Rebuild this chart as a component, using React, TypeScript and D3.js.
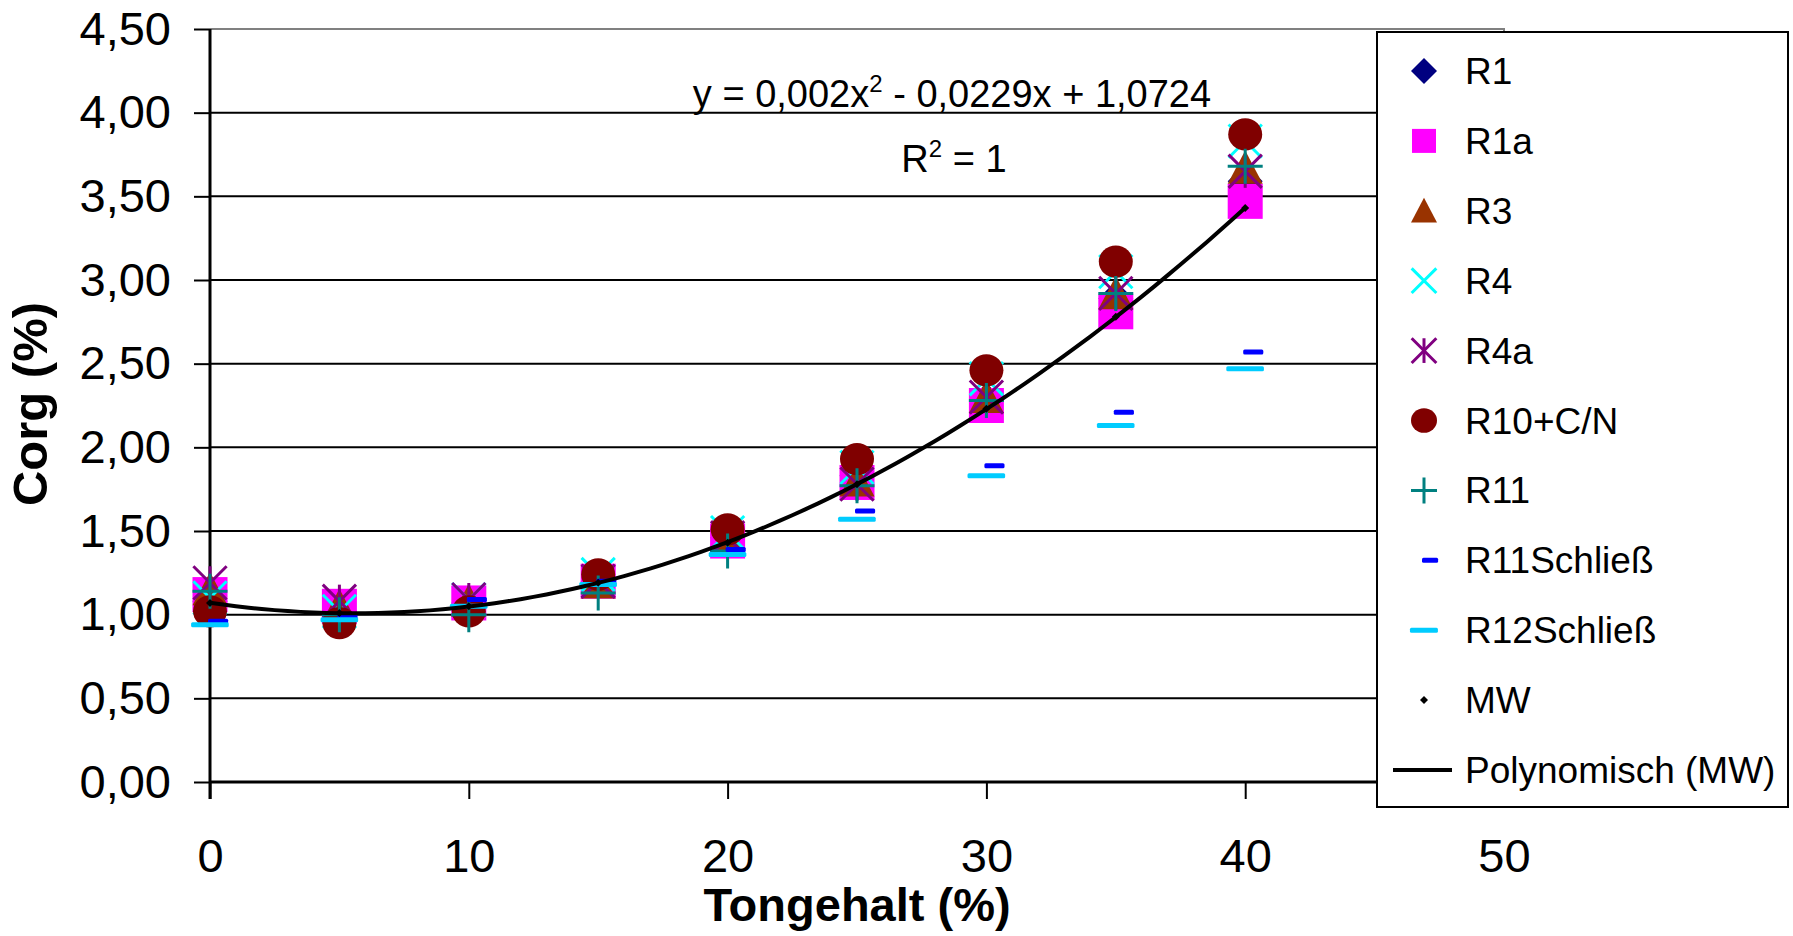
import React, { useEffect, useRef } from 'react';
import * as d3 from 'd3';

const tongehalt = [0, 5, 10, 15, 20, 25, 30, 35, 40];
const r1 = [1.08, 1.02, 1.07, 1.2, 1.46, 1.83, 2.28, 2.89, 3.59];
const r1a = [1.12, 1.05, 1.07, 1.2, 1.44, 1.79, 2.25, 2.81, 3.47];
const r3 = [1.15, 1.05, 1.08, 1.19, 1.45, 1.8, 2.3, 2.92, 3.67];
const r4 = [1.1, 1.02, 1.09, 1.24, 1.49, 1.88, 2.41, 3.05, 3.83];
const r4a = [1.19, 1.08, 1.09, 1.2, 1.46, 1.78, 2.3, 2.92, 3.65];
const r10 = [1.02, 0.95, 1.02, 1.24, 1.51, 1.93, 2.46, 3.11, 3.87];
const r11 = [1.14, 1.0, 1.0, 1.13, 1.38, 1.77, 2.28, 2.92, 3.68];
const r11s = [0.96, 0.99, 1.09, 1.2, 1.39, 1.62, 1.89, 2.21, 2.57];
const r12s = [0.94, 0.97, 1.05, 1.18, 1.36, 1.57, 1.83, 2.13, 2.47];
const mw = [1.07, 1.01, 1.05, 1.19, 1.43, 1.78, 2.23, 2.78, 3.43];

const yTicks = [0, 0.5, 1, 1.5, 2, 2.5, 3, 3.5, 4, 4.5];
const xTicks = [0, 10, 20, 30, 40, 50];

const series = [
  { name: 'R1', values: r1, shape: 'diamond', color: '#000080' },
  { name: 'R1a', values: r1a, shape: 'square', color: '#FF00FF' },
  { name: 'R3', values: r3, shape: 'triangle', color: '#993300' },
  { name: 'R4', values: r4, shape: 'x', color: '#00FFFF' },
  { name: 'R4a', values: r4a, shape: 'star', color: '#800080' },
  { name: 'R10+C/N', values: r10, shape: 'circle', color: '#800000' },
  { name: 'R11', values: r11, shape: 'plus', color: '#008080' },
  { name: 'R11Schließ', values: r11s, shape: 'shortdash', color: '#0000FF' },
  { name: 'R12Schließ', values: r12s, shape: 'longdash', color: '#00CCFF' },
  { name: 'MW', values: mw, shape: 'dot', color: '#000000' },
];

// quadratic least squares through MW (the Excel trendline)
function fitQuad(xs: number[], ys: number[]) {
  const S = (f: (x: number, y: number) => number) => d3.sum(xs, (x, i) => f(x, ys[i]));
  const m = [
    [S((x) => x ** 4), S((x) => x ** 3), S((x) => x ** 2), S((x, y) => x * x * y)],
    [S((x) => x ** 3), S((x) => x ** 2), S((x) => x), S((x, y) => x * y)],
    [S((x) => x ** 2), S((x) => x), xs.length, S((x, y) => y)],
  ];
  for (let i = 0; i < 3; i++) {
    for (let k = i + 1; k < 3; k++) {
      const f = m[k][i] / m[i][i];
      for (let j = i; j < 4; j++) m[k][j] -= f * m[i][j];
    }
  }
  const c = [0, 0, 0];
  for (let i = 2; i >= 0; i--) {
    let s = m[i][3];
    for (let j = i + 1; j < 3; j++) s -= m[i][j] * c[j];
    c[i] = s / m[i][i];
  }
  return c;
}

function drawMarker(g: any, shape: string, color: string, cx: number, cy: number, s: number) {
  if (shape === 'diamond') {
    g.append('path').attr('d', `M${cx},${cy - s}L${cx + s},${cy}L${cx},${cy + s}L${cx - s},${cy}Z`).attr('fill', color);
  } else if (shape === 'square') {
    g.append('rect').attr('x', cx - s).attr('y', cy - s).attr('width', 2 * s).attr('height', 2 * s).attr('fill', color);
  } else if (shape === 'triangle') {
    g.append('path').attr('d', `M${cx},${cy - s}L${cx + s},${cy + s * 0.9}L${cx - s},${cy + s * 0.9}Z`).attr('fill', color);
  } else if (shape === 'circle') {
    g.append('ellipse').attr('cx', cx).attr('cy', cy).attr('rx', s).attr('ry', s * 0.95).attr('fill', color);
  } else if (shape === 'x' || shape === 'star') {
    const d = s * 0.95;
    g.append('path').attr('d', `M${cx - d},${cy - d}L${cx + d},${cy + d}M${cx + d},${cy - d}L${cx - d},${cy + d}`)
      .attr('stroke', color).attr('stroke-width', 3).attr('fill', 'none');
    if (shape === 'star') {
      g.append('path').attr('d', `M${cx},${cy - d}L${cx},${cy + d}`).attr('stroke', color).attr('stroke-width', 3);
    }
  } else if (shape === 'plus') {
    g.append('path').attr('d', `M${cx - s},${cy}L${cx + s},${cy}M${cx},${cy - s}L${cx},${cy + s}`)
      .attr('stroke', color).attr('stroke-width', 3).attr('fill', 'none');
  } else if (shape === 'shortdash') {
    g.append('rect').attr('x', cx - 2).attr('y', cy - 2.5).attr('width', s * 1.15).attr('height', 5).attr('rx', 1.5).attr('fill', color);
  } else if (shape === 'longdash') {
    g.append('rect').attr('x', cx - s * 1.08).attr('y', cy - 2.5).attr('width', s * 2.15).attr('height', 5).attr('rx', 1.5).attr('fill', color);
  } else if (shape === 'dot') {
    const d = 4;
    g.append('path').attr('d', `M${cx},${cy - d}L${cx + d},${cy}L${cx},${cy + d}L${cx - d},${cy}Z`).attr('fill', color);
  }
}

const App = () => {
  const svgRef = useRef<SVGSVGElement>(null);

  useEffect(() => {
    const svg = d3.select(svgRef.current);
    svg.selectAll('*').remove();

    const width = 1793;
    const height = 936;
    const font = '"Liberation Sans", Arial, sans-serif';

    const x = d3.scaleLinear().domain([0, 50]).range([210, 1504]);
    const y = d3.scaleLinear().domain([0, 4.5]).range([782, 29]);

    svg.attr('width', width).attr('height', height);
    svg.append('rect').attr('width', width).attr('height', height).attr('fill', '#fff');

    // gridlines
    svg.append('g')
      .selectAll('line')
      .data(yTicks.filter((t) => t > 0 && t < 4.5))
      .enter()
      .append('line')
      .attr('x1', x(0)).attr('x2', x(50))
      .attr('y1', (d) => y(d)).attr('y2', (d) => y(d))
      .attr('stroke', '#000').attr('stroke-width', 2);

    // plot border top/right (grey)
    svg.append('path')
      .attr('d', `M${x(0)},${y(4.5)}H${x(50)}V${y(0)}`)
      .attr('stroke', '#808080').attr('stroke-width', 2).attr('fill', 'none');

    // y axis
    const yAxis = svg.append('g')
      .attr('transform', `translate(${x(0)},0)`)
      .call(d3.axisLeft(y).tickValues(yTicks).tickSize(16).tickPadding(23).tickFormat((d: any) => d3.format('.2f')(d).replace('.', ',')));
    yAxis.select('.domain').remove();
    yAxis.selectAll('.tick line').attr('stroke', '#000').attr('stroke-width', 2);
    yAxis.selectAll('.tick text').attr('font-family', font).attr('font-size', 47).attr('fill', '#000');

    // x axis
    const xAxis = svg.append('g')
      .attr('transform', `translate(0,${y(0)})`)
      .call(d3.axisBottom(x).tickValues(xTicks).tickSize(17).tickPadding(40));
    xAxis.select('.domain').remove();
    xAxis.selectAll('.tick line').attr('stroke', '#000').attr('stroke-width', 2);
    xAxis.selectAll('.tick text').attr('font-family', font).attr('font-size', 47).attr('fill', '#000');

    svg.append('line').attr('x1', x(0)).attr('x2', x(50)).attr('y1', y(0)).attr('y2', y(0)).attr('stroke', '#000').attr('stroke-width', 3);
    svg.append('line').attr('x1', x(0)).attr('x2', x(0)).attr('y1', y(4.5)).attr('y2', y(0) + 17).attr('stroke', '#000').attr('stroke-width', 3);

    // markers
    const markers = svg.append('g');
    series.forEach((s) => {
      s.values.forEach((v, i) => {
        const size = s.shape === 'square' ? 17.5 : s.shape === 'circle' ? 17 : 17.5;
        drawMarker(markers, s.shape, s.color, x(tongehalt[i]), y(v), size);
      });
    });

    // trendline
    const [a, b, c] = fitQuad(tongehalt, mw);
    const xs = d3.range(0, 40.001, 0.5);
    const line = d3.line<number>().x((d) => x(d)).y((d) => y(a * d * d + b * d + c));
    svg.append('path').datum(xs).attr('d', line).attr('stroke', '#000').attr('stroke-width', 4).attr('fill', 'none');

    // equation
    const eq = svg.append('text').attr('x', 952).attr('y', 107).attr('text-anchor', 'middle')
      .attr('font-family', font).attr('font-size', 38).attr('fill', '#000');
    eq.append('tspan').text('y = 0,002x');
    eq.append('tspan').attr('font-size', 24).attr('dy', -15).text('2');
    eq.append('tspan').attr('dy', 15).text(' - 0,0229x + 1,0724');
    const r2 = svg.append('text').attr('x', 954).attr('y', 172).attr('text-anchor', 'middle')
      .attr('font-family', font).attr('font-size', 38).attr('fill', '#000');
    r2.append('tspan').text('R');
    r2.append('tspan').attr('font-size', 24).attr('dy', -15).text('2');
    r2.append('tspan').attr('dy', 15).text(' = 1');

    // axis titles
    svg.append('text').attr('transform', 'translate(47,404) rotate(-90)').attr('text-anchor', 'middle')
      .attr('font-family', font).attr('font-weight', 'bold').attr('font-size', 49).attr('fill', '#000').text('Corg (%)');
    svg.append('text').attr('x', 857).attr('y', 921).attr('text-anchor', 'middle')
      .attr('font-family', font).attr('font-weight', 'bold').attr('font-size', 47).attr('fill', '#000').text('Tongehalt (%)');

    // legend
    const lg = svg.append('g');
    lg.append('rect').attr('x', 1377).attr('y', 32).attr('width', 411).attr('height', 775)
      .attr('fill', '#fff').attr('stroke', '#000').attr('stroke-width', 2);
    const rowY = (i: number) => 71 + i * 69.9;
    series.forEach((s, i) => {
      const cy = rowY(i);
      const ls = s.shape === 'square' ? 12 : s.shape === 'circle' ? 13 : s.shape === 'shortdash' ? 14 : 13;
      drawMarker(lg, s.shape, s.color, 1424, cy, ls);
      lg.append('text').attr('x', 1465).attr('y', cy + 13).attr('font-family', font).attr('font-size', 37).attr('fill', '#000').text(s.name);
    });
    const py = rowY(series.length);
    lg.append('line').attr('x1', 1393).attr('x2', 1452).attr('y1', py).attr('y2', py).attr('stroke', '#000').attr('stroke-width', 4);
    lg.append('text').attr('x', 1465).attr('y', py + 13).attr('font-family', font).attr('font-size', 37).attr('fill', '#000').text('Polynomisch (MW)');
  }, []);

  return <svg ref={svgRef} style={{ position: 'absolute', left: 0, top: 0, display: 'block' }} />;
};

export default App;
